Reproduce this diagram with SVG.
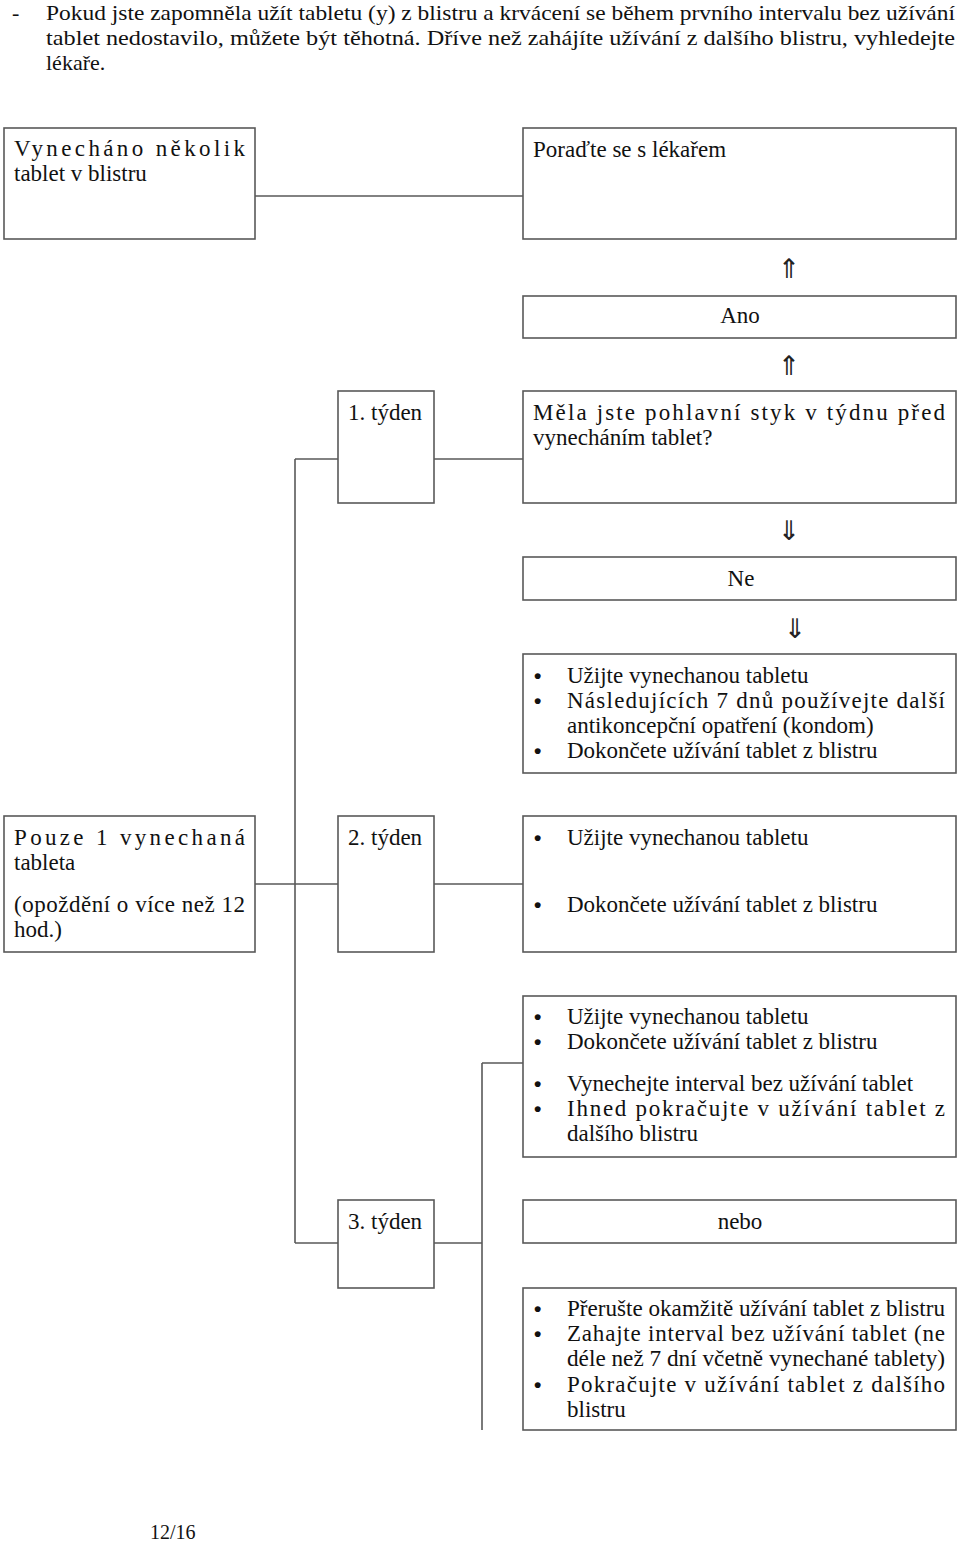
<svg xmlns="http://www.w3.org/2000/svg" width="960" height="1541" viewBox="0 0 960 1541">
<style>
.t{font-family:"Liberation Serif","Times New Roman",serif;font-size:23px;fill:#111}
.top{font-family:"Liberation Serif","Times New Roman",serif;font-size:22px;fill:#111}
.c{text-anchor:middle}
.box{fill:#fff;stroke:#595959;stroke-width:1.6}
.ln{stroke:#595959;stroke-width:1.6;fill:none}
.ar{font-family:"DejaVu Sans",sans-serif;font-size:27px;fill:#222;text-anchor:middle}
.b{font-family:"Liberation Sans",sans-serif;font-size:21px;font-weight:bold;fill:#111}
</style>
<rect width="960" height="1541" fill="#fff"/>
<g id="intro">
<text class="top" x="12" y="20">-</text>
<text class="top" x="46" y="20" textLength="909" lengthAdjust="spacingAndGlyphs">Pokud jste zapomněla užít tabletu (y) z blistru a krvácení se během prvního intervalu bez užívání</text>
<text class="top" x="46" y="45" textLength="909" lengthAdjust="spacingAndGlyphs">tablet nedostavilo, můžete být těhotná. Dříve než zahájíte užívání z dalšího blistru, vyhledejte</text>
<text class="top" x="46" y="70">lékaře.</text>
</g>
<g id="connectors">
<line class="ln" x1="255" y1="196" x2="523" y2="196"/>
<line class="ln" x1="295" y1="459" x2="338" y2="459"/>
<line class="ln" x1="434" y1="459" x2="523" y2="459"/>
<line class="ln" x1="295" y1="459" x2="295" y2="1243"/>
<line class="ln" x1="255" y1="884" x2="338" y2="884"/>
<line class="ln" x1="434" y1="884" x2="523" y2="884"/>
<line class="ln" x1="295" y1="1243" x2="338" y2="1243"/>
<line class="ln" x1="434" y1="1243" x2="482" y2="1243"/>
<line class="ln" x1="482" y1="1063" x2="482" y2="1430"/>
<line class="ln" x1="482" y1="1063" x2="523" y2="1063"/>
<text class="ar" x="789" y="278">⇑</text>
<text class="ar" x="789" y="375">⇑</text>
<text class="ar" x="789" y="540">⇓</text>
<text class="ar" x="795" y="638">⇓</text>
</g>
<g id="n-several">
<rect class="box" x="4" y="128" width="251" height="111"/>
<text class="t" x="14" y="156" textLength="231" lengthAdjust="spacing">Vynecháno několik</text>
<text class="t" x="14" y="181">tablet v blistru</text>
</g>
<g id="n-doctor">
<rect class="box" x="523" y="128" width="433" height="111"/>
<text class="t" x="533" y="157">Poraďte se s lékařem</text>
</g>
<g id="n-ano">
<rect class="box" x="523" y="296" width="433" height="42"/>
<text class="t c" x="740" y="323">Ano</text>
</g>
<g id="n-week1">
<rect class="box" x="338" y="391" width="96" height="112"/>
<text class="t" x="348" y="420">1. týden</text>
</g>
<g id="n-question">
<rect class="box" x="523" y="391" width="433" height="112"/>
<text class="t" x="533" y="420" textLength="412" lengthAdjust="spacing">Měla jste pohlavní styk v týdnu před</text>
<text class="t" x="533" y="445">vynecháním tablet?</text>
</g>
<g id="n-ne">
<rect class="box" x="523" y="557" width="433" height="43"/>
<text class="t c" x="741" y="586">Ne</text>
</g>
<g id="n-week1-actions">
<rect class="box" x="523" y="654" width="433" height="119"/>
<text class="b" x="534" y="683">•</text>
<text class="t" x="567" y="683">Užijte vynechanou tabletu</text>
<text class="b" x="534" y="708">•</text>
<text class="t" x="567" y="708" textLength="378" lengthAdjust="spacing">Následujících 7 dnů používejte další</text>
<text class="t" x="567" y="733">antikoncepční opatření (kondom)</text>
<text class="b" x="534" y="758">•</text>
<text class="t" x="567" y="758">Dokončete užívání tablet z blistru</text>
</g>
<g id="n-single">
<rect class="box" x="4" y="816" width="251" height="136"/>
<text class="t" x="14" y="845" textLength="231" lengthAdjust="spacing">Pouze 1 vynechaná</text>
<text class="t" x="14" y="870">tableta</text>
<text class="t" x="14" y="912" textLength="231" lengthAdjust="spacing">(opoždění o více než 12</text>
<text class="t" x="14" y="937">hod.)</text>
</g>
<g id="n-week2">
<rect class="box" x="338" y="816" width="96" height="136"/>
<text class="t" x="348" y="845">2. týden</text>
</g>
<g id="n-week2-actions">
<rect class="box" x="523" y="816" width="433" height="136"/>
<text class="b" x="534" y="845">•</text>
<text class="t" x="567" y="845">Užijte vynechanou tabletu</text>
<text class="b" x="534" y="912">•</text>
<text class="t" x="567" y="912">Dokončete užívání tablet z blistru</text>
</g>
<g id="n-week3-a">
<rect class="box" x="523" y="996" width="433" height="161"/>
<text class="b" x="534" y="1024">•</text>
<text class="t" x="567" y="1024">Užijte vynechanou tabletu</text>
<text class="b" x="534" y="1049">•</text>
<text class="t" x="567" y="1049">Dokončete užívání tablet z blistru</text>
<text class="b" x="534" y="1091">•</text>
<text class="t" x="567" y="1091">Vynechejte interval bez užívání tablet</text>
<text class="b" x="534" y="1116">•</text>
<text class="t" x="567" y="1116" textLength="378" lengthAdjust="spacing">Ihned pokračujte v užívání  tablet z</text>
<text class="t" x="567" y="1141">dalšího blistru</text>
</g>
<g id="n-week3">
<rect class="box" x="338" y="1200" width="96" height="88"/>
<text class="t" x="348" y="1229">3. týden</text>
</g>
<g id="n-nebo">
<rect class="box" x="523" y="1200" width="433" height="43"/>
<text class="t c" x="740" y="1229">nebo</text>
</g>
<g id="n-week3-b">
<rect class="box" x="523" y="1288" width="433" height="142"/>
<text class="b" x="534" y="1316">•</text>
<text class="t" x="567" y="1316" textLength="378" lengthAdjust="spacingAndGlyphs">Přerušte okamžitě užívání tablet z blistru</text>
<text class="b" x="534" y="1341">•</text>
<text class="t" x="567" y="1341" textLength="378" lengthAdjust="spacing">Zahajte interval bez užívání tablet (ne</text>
<text class="t" x="567" y="1366" textLength="378" lengthAdjust="spacingAndGlyphs">déle než 7 dní včetně vynechané tablety)</text>
<text class="b" x="534" y="1392">•</text>
<text class="t" x="567" y="1392" textLength="378" lengthAdjust="spacing">Pokračujte v užívání tablet z dalšího</text>
<text class="t" x="567" y="1417">blistru</text>
</g>
<g id="page">
<text class="t" x="150" y="1539" style="font-size:20px">12/16</text>
</g>
</svg>
